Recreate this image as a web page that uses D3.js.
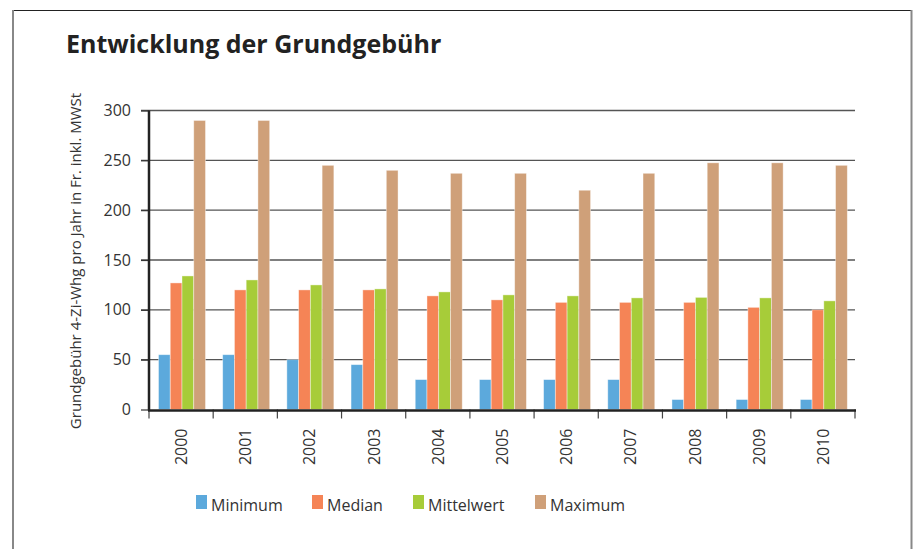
<!DOCTYPE html>
<html>
<head>
<meta charset="utf-8">
<script src="https://cdn.jsdelivr.net/npm/d3@7"></script>
<style>
  body { margin: 0; background: #fff; }
  text { font-family: "Open Sans", sans-serif; }
</style>
</head>
<body>
<div id="chart"></div>
<script>
// data
var years = ["2000", "2001", "2002", "2003", "2004", "2005", "2006", "2007", "2008", "2009", "2010"];
var seriesNames = ["Minimum", "Median", "Mittelwert", "Maximum"];
var minimum    = [55, 55, 50, 45, 30, 30, 30, 30, 10, 10, 10];
var median     = [127, 120, 120, 120, 114, 110, 107.5, 107.5, 107.5, 102.5, 100];
var mittelwert = [134, 130, 125, 121, 118, 115, 114, 112, 112.5, 112, 109];
var maximum    = [290, 290, 245, 240, 237, 237, 220, 237, 247.5, 247.5, 245];
var yTicks = [0, 50, 100, 150, 200, 250, 300];
var colors = ["#5ca9dc", "#f58456", "#a7cc39", "#cfa079"];

var allSeries = [minimum, median, mittelwert, maximum];

var width = 918, height = 549;
var plotLeft = 149, plotRight = 855, plotTop = 110.5, plotBottom = 409.5;

var svg = d3.select("#chart")
  .append("svg")
    .attr("width", width)
    .attr("height", height);

// frame
svg.append("line").attr("x1", 13).attr("x2", 912).attr("y1", 10.5).attr("y2", 10.5)
  .attr("stroke", "#222").attr("stroke-width", 1.2);
svg.append("line").attr("x1", 13).attr("x2", 13).attr("y1", 10).attr("y2", height)
  .attr("stroke", "#888").attr("stroke-width", 2);
svg.append("line").attr("x1", 911.5).attr("x2", 911.5).attr("y1", 10).attr("y2", height)
  .attr("stroke", "#888").attr("stroke-width", 2);

svg.append("text")
  .attr("x", 66).attr("y", 53)
  .attr("font-size", 25).attr("font-weight", "bold")
  .attr("fill", "#222")
  .text("Entwicklung der Grundgebühr");

var x = d3.scaleBand().domain(years).range([plotLeft, plotRight]).padding(0);
var x1 = d3.scaleBand().domain(seriesNames).range([9.5, 56.5]).padding(0);
var y = d3.scaleLinear().domain([0, 300]).range([plotBottom, plotTop]);

// grid lines
svg.append("g")
  .selectAll("line")
  .data(yTicks.slice(1))
  .enter()
  .append("line")
    .attr("x1", plotLeft - 8).attr("x2", plotRight)
    .attr("y1", function(d) { return y(d); })
    .attr("y2", function(d) { return y(d); })
    .attr("stroke", "#555")
    .attr("stroke-width", 1.3);

// bars
var groups = svg.append("g")
  .selectAll("g")
  .data(years)
  .enter()
  .append("g")
    .attr("transform", function(d) { return "translate(" + x(d) + ",0)"; });

groups.selectAll("rect")
  .data(function(d, i) {
    return seriesNames.map(function(s, k) { return { key: s, value: allSeries[k][i], k: k }; });
  })
  .enter()
  .append("rect")
    .attr("x", function(d) { return x1(d.key); })
    .attr("width", x1.bandwidth())
    .attr("y", function(d) { return y(d.value); })
    .attr("height", function(d) { return plotBottom - y(d.value); })
    .attr("fill", function(d) { return colors[d.k]; })
    .attr("stroke", "rgba(255,255,255,0.5)")
    .attr("stroke-width", 0.8);

// y axis
var yAxis = svg.append("g")
  .attr("transform", "translate(" + plotLeft + ",0)")
  .call(d3.axisLeft(y).tickValues(yTicks).tickSize(8).tickPadding(10));
yAxis.select(".domain").remove();
yAxis.selectAll("line").attr("stroke", "#333").attr("stroke-width", 1.2);
yAxis.selectAll("text").attr("font-size", 16).attr("fill", "#333")
  .style("font-family", "'Open Sans', sans-serif");
svg.append("line").attr("x1", plotLeft).attr("x2", plotLeft).attr("y1", plotTop).attr("y2", plotBottom + 1)
  .attr("stroke", "#222").attr("stroke-width", 2.5);

// x axis
var xAxis = svg.append("g")
  .attr("transform", "translate(0," + plotBottom + ")")
  .call(d3.axisBottom(x).tickSize(0).tickPadding(0));
xAxis.select(".domain").remove();
xAxis.selectAll("text")
  .attr("font-size", 16).attr("fill", "#333")
  .style("font-family", "'Open Sans', sans-serif")
  .attr("text-anchor", "end")
  .attr("dy", null)
  .attr("y", null)
  .attr("transform", "translate(6,19) rotate(-90)");
svg.append("g")
  .selectAll("line")
  .data(years.concat(["end"]))
  .enter()
  .append("line")
    .attr("x1", function(d, i) { return plotLeft + i * x.bandwidth(); })
    .attr("x2", function(d, i) { return plotLeft + i * x.bandwidth(); })
    .attr("y1", plotBottom).attr("y2", plotBottom + 9)
    .attr("stroke", "#444").attr("stroke-width", 1.2);
svg.append("line").attr("x1", plotLeft - 1).attr("x2", plotRight + 1).attr("y1", plotBottom + 1).attr("y2", plotBottom + 1)
  .attr("stroke", "#222").attr("stroke-width", 2.5);

// y label
svg.append("text")
  .attr("transform", "translate(81," + ((plotTop + plotBottom) / 2 + 1) + ") rotate(-90)")
  .attr("text-anchor", "middle")
  .attr("font-size", 15)
  .attr("fill", "#333")
  .text("Grundgebühr 4-Zi-Whg pro Jahr in Fr. inkl. MWSt");

// legend
var legendX = [196, 312, 413, 535];
var legend = svg.append("g")
  .selectAll("g")
  .data(seriesNames)
  .enter()
  .append("g")
    .attr("transform", function(d, i) { return "translate(" + legendX[i] + ",495)"; });
legend.append("rect")
  .attr("width", 11).attr("height", 14)
  .attr("fill", function(d, i) { return colors[i]; });
legend.append("text")
  .attr("x", 15).attr("y", 16)
  .attr("font-size", 16).attr("fill", "#333")
  .text(function(d) { return d; });
</script>
</body>
</html>
